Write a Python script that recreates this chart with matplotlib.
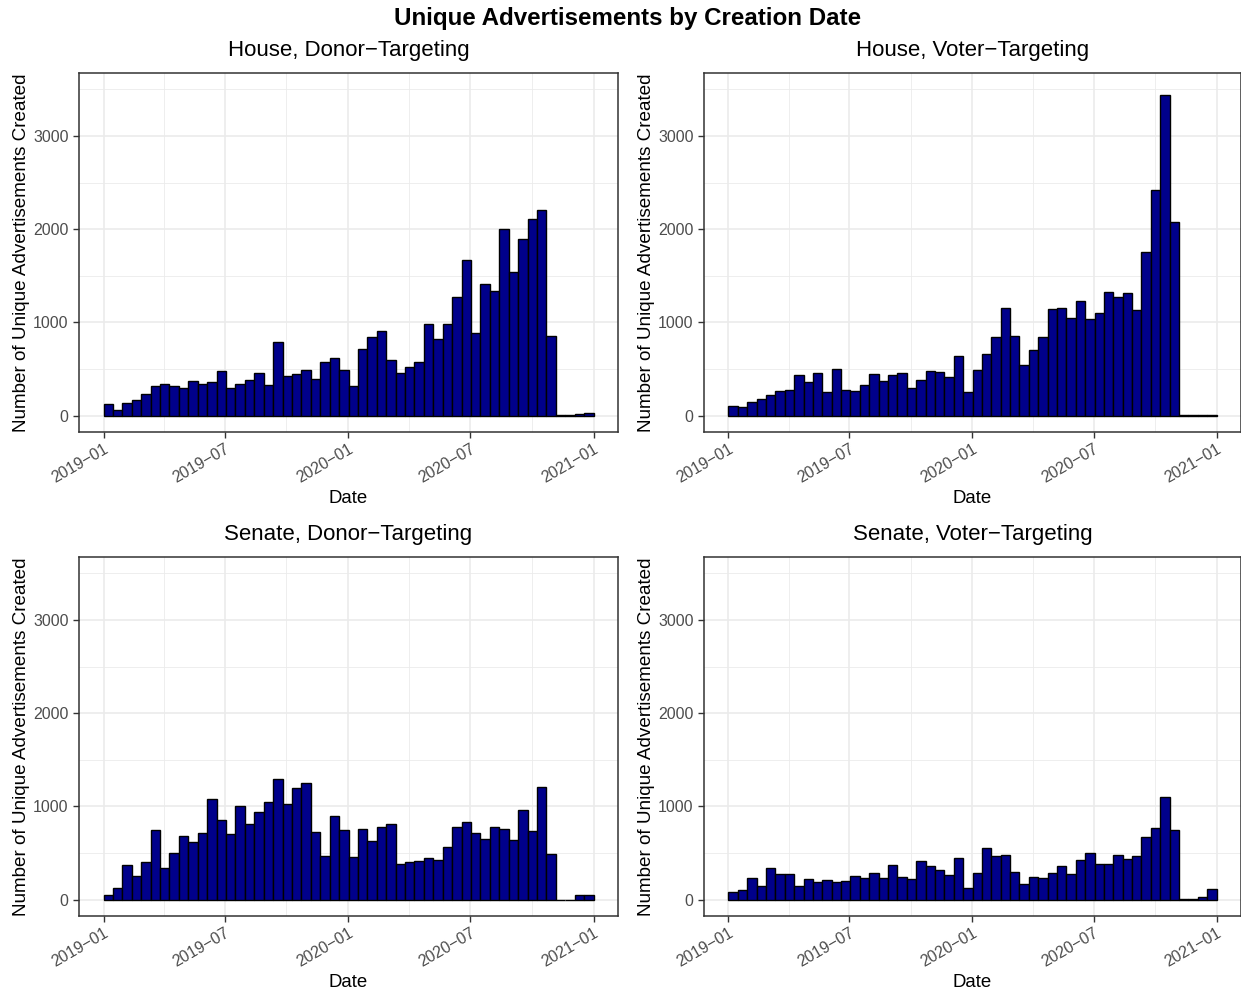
import numpy as np
import matplotlib
matplotlib.use("Agg")
import matplotlib.pyplot as plt
import matplotlib.dates as mdates
from matplotlib.ticker import FixedLocator, FuncFormatter
import datetime as dt

plt.rcParams["font.family"] = ["Liberation Sans", "DejaVu Sans"]

# Counts of unique ads per two-week bin, 2019-01-01 .. 2021-01-01 (52 bins)
house_donor = [128, 60, 135, 164, 235, 313, 335, 317, 292, 370, 335, 363, 484,
               299, 338, 384, 459, 327, 790, 423, 452, 488, 391, 577, 619, 491,
               320, 719, 847, 904, 598, 459, 527, 580, 986, 822, 982, 1274, 1665,
               886, 1409, 1342, 2000, 1537, 1897, 2107, 2210, 851, 3, 3, 14, 28]
house_voter = [103, 89, 142, 181, 221, 260, 274, 431, 363, 456, 249, 498, 278,
               263, 331, 452, 374, 434, 459, 295, 388, 484, 466, 416, 641, 249,
               491, 662, 843, 1157, 851, 541, 708, 840, 1142, 1160, 1050, 1231,
               1032, 1103, 1327, 1274, 1317, 1132, 1754, 2420, 3438, 2078, 5, 5, 10, 5]
senate_donor = [46, 121, 374, 249, 402, 744, 338, 505, 687, 623, 719, 1085, 851,
                705, 1000, 808, 936, 1050, 1292, 1021, 1199, 1249, 730, 473, 893,
                744, 456, 762, 626, 776, 811, 388, 406, 413, 445, 427, 566, 776,
                829, 715, 648, 783, 754, 637, 964, 740, 1210, 495, 0, 1, 50, 50]
senate_voter = [85, 100, 231, 146, 338, 278, 274, 149, 221, 189, 206, 189, 203,
                249, 231, 285, 235, 370, 242, 217, 416, 363, 320, 267, 448, 121,
                281, 555, 466, 480, 292, 164, 242, 235, 288, 359, 274, 427, 502,
                388, 384, 477, 434, 470, 676, 765, 1100, 751, 3, 11, 25, 110]

panel_titles = ["House, Donor\u2212Targeting", "House, Voter\u2212Targeting",
                "Senate, Donor\u2212Targeting", "Senate, Voter\u2212Targeting"]
panel_values = [house_donor, house_voter, senate_donor, senate_voter]

start = mdates.date2num(dt.datetime(2019, 1, 1))
end = mdates.date2num(dt.datetime(2021, 1, 1))
edges = np.linspace(start, end, len(house_donor) + 1)

major_dates = [dt.datetime(2019, 1, 1), dt.datetime(2019, 7, 1), dt.datetime(2020, 1, 1),
               dt.datetime(2020, 7, 1), dt.datetime(2021, 1, 1)]
major_x = mdates.date2num(major_dates)
minor_x = (major_x[:-1] + major_x[1:]) / 2
y_major = [0, 1000, 2000, 3000]
y_minor = [500, 1500, 2500, 3500]

W, H = 1241, 993
fig = plt.figure(figsize=(W / 100, H / 100), dpi=100)

lefts = [79, 704]
widths = [539, 537]
tops = [73, 557]
ph = 359

grid_col = "#EBEBEB"
text_col = "#4D4D4D"
border_col = "#333333"

for i, (title, vals) in enumerate(zip(panel_titles, panel_values)):
    r, c = divmod(i, 2)
    ax = fig.add_axes([lefts[c] / W, 1 - (tops[r] + ph) / H, widths[c] / W, ph / H])
    ax.set_axisbelow(True)
    for x in minor_x:
        ax.axvline(x, color=grid_col, lw=0.6, zorder=0)
    for y in y_minor:
        ax.axhline(y, color=grid_col, lw=0.6, zorder=0)
    for x in major_x:
        ax.axvline(x, color=grid_col, lw=1.2, zorder=0)
    for y in y_major:
        ax.axhline(y, color=grid_col, lw=1.2, zorder=0)

    ax.bar(edges[:-1], vals, width=np.diff(edges), align="edge",
           color="#00008B", edgecolor="black", linewidth=1.0, zorder=2)

    span = end - start
    ax.set_xlim(start - 0.05 * span, end + 0.05 * span)
    ax.set_ylim(-175, 3675)

    ax.xaxis.set_major_locator(FixedLocator(major_x))
    ax.xaxis.set_major_formatter(FuncFormatter(
        lambda v, p: mdates.num2date(v).strftime("%Y\u2212%m")))
    ax.yaxis.set_major_locator(FixedLocator(y_major))
    ax.tick_params(axis="both", length=4, width=1.0, color=border_col,
                   labelcolor=text_col, labelsize=11.5)
    ax.tick_params(axis="x", pad=3)
    for lab in ax.get_xticklabels():
        lab.set_rotation(30)
        lab.set_ha("right")
        lab.set_va("top")
        lab.set_rotation_mode("anchor")
    for s in ax.spines.values():
        s.set_color(border_col)
        s.set_linewidth(1.1)

    ax.set_title(title, fontsize=16, color="black", pad=12)
    ax.set_xlabel("Date", fontsize=13.4, color="black", labelpad=3)
    ax.set_ylabel("Number of Unique Advertisements Created", fontsize=13.6,
                  color="black", labelpad=2)

fig.text(0.506, 1 - 18 / H, "Unique Advertisements by Creation Date",
         ha="center", va="center", fontsize=17.4, fontweight="bold")

fig.savefig("out.png", dpi=100)
